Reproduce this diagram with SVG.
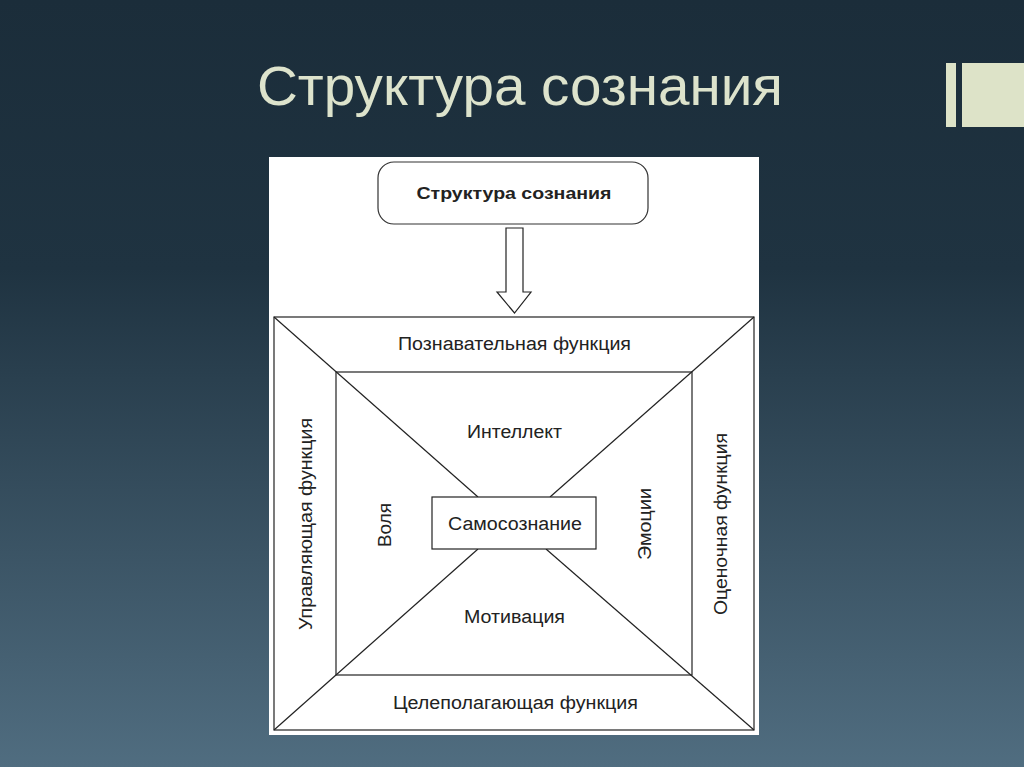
<svg xmlns="http://www.w3.org/2000/svg" width="1024" height="767" viewBox="0 0 1024 767">
<defs>
<linearGradient id="bg" x1="0" y1="0" x2="0" y2="1">
<stop offset="0" stop-color="#1b2d3a"/>
<stop offset="0.35" stop-color="#1f3341"/>
<stop offset="1" stop-color="#506d80"/>
</linearGradient>
<style>
.ln{stroke:#222;stroke-width:1.2;fill:none}
.lb{font-family:"Liberation Sans",Arial,sans-serif;font-size:18px;fill:#222;text-anchor:middle}
</style>
</defs>
<rect width="1024" height="767" fill="url(#bg)"/>
<rect x="946" y="63" width="10" height="64" fill="#dde3c8"/>
<rect x="962" y="63" width="62" height="64" fill="#dde3c8"/>
<text x="520" y="105" font-family="Liberation Sans,Arial,sans-serif" font-size="56" fill="#dde3cc" text-anchor="middle" textLength="526" lengthAdjust="spacingAndGlyphs">Структура сознания</text>
<rect x="269" y="157" width="490" height="578" fill="#fff"/>
<g id="top">
<rect x="378" y="162" width="270" height="62" rx="16" fill="#fff" stroke="#333" stroke-width="1.2"/>
<text x="514" y="199" font-family="Liberation Sans,Arial,sans-serif" font-size="17" font-weight="bold" fill="#222" text-anchor="middle" textLength="195" lengthAdjust="spacingAndGlyphs">Структура сознания</text>
</g>
<g id="connectors">
<path class="ln" d="M506,228 H523 V292 H531 L514.5,313 L497,292 H506 Z" stroke="#444"/>
<line class="ln" x1="274" y1="317" x2="478" y2="497"/>
<line class="ln" x1="754" y1="317" x2="550" y2="497"/>
<line class="ln" x1="478" y1="549" x2="274" y2="730"/>
<line class="ln" x1="546" y1="549" x2="754" y2="730"/>
</g>
<g id="outer"><rect class="ln" x="274" y="317" width="480" height="413"/></g>
<g id="inner"><rect class="ln" x="336" y="372" width="356" height="303"/></g>
<g id="center">
<rect x="432" y="497" width="164" height="52" fill="#fff" stroke="#222" stroke-width="1.2"/>
<text class="lb" x="515" y="530" textLength="134" lengthAdjust="spacingAndGlyphs">Самосознание</text>
</g>
<g id="labels">
<text class="lb" x="514.5" y="350" textLength="233" lengthAdjust="spacingAndGlyphs">Познавательная функция</text>
<text class="lb" x="514.5" y="438" textLength="95" lengthAdjust="spacingAndGlyphs">Интеллект</text>
<text class="lb" x="514.5" y="623" textLength="101" lengthAdjust="spacingAndGlyphs">Мотивация</text>
<text class="lb" x="515.5" y="709" textLength="245" lengthAdjust="spacingAndGlyphs">Целеполагающая функция</text>
<text class="lb" transform="translate(391,525) rotate(-90)" textLength="44" lengthAdjust="spacingAndGlyphs">Воля</text>
<text class="lb" transform="translate(651,524) rotate(-90)" textLength="72" lengthAdjust="spacingAndGlyphs">Эмоции</text>
<text class="lb" transform="translate(312,524) rotate(-90)" textLength="212" lengthAdjust="spacingAndGlyphs">Управляющая функция</text>
<text class="lb" transform="translate(727,524) rotate(-90)" textLength="182" lengthAdjust="spacingAndGlyphs">Оценочная функция</text>
</g>
</svg>
